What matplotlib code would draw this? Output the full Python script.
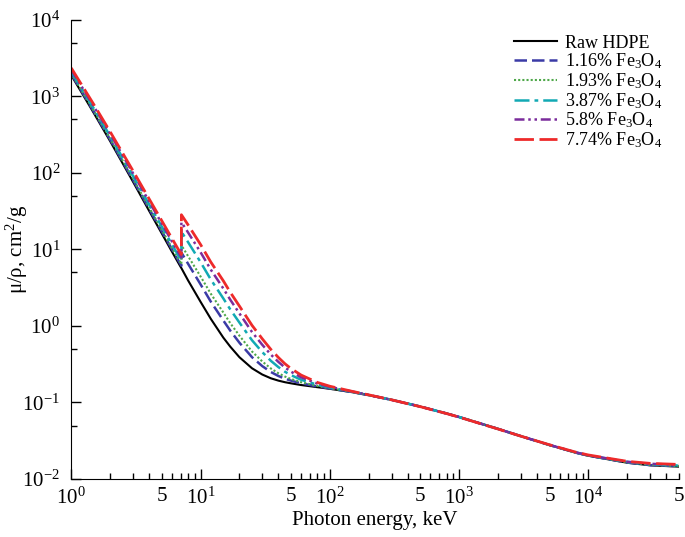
import numpy as np
import matplotlib
matplotlib.use("Agg")
import matplotlib.pyplot as plt
from matplotlib.ticker import LogLocator, NullFormatter

plt.rcParams['font.family'] = ['Liberation Serif', 'DejaVu Serif']
plt.rcParams['mathtext.fontset'] = 'custom'
plt.rcParams['mathtext.rm'] = 'Liberation Serif'
plt.rcParams['mathtext.it'] = 'Liberation Serif:italic'

# photon energy, keV (the Fe K edge at 7.11 keV appears twice)
energy = [1, 1.5, 2, 3, 4, 5, 6, 7, 7.11, 7.11, 8, 10, 12, 15, 17, 20, 25, 30, 35, 40,
          45, 50, 60, 80, 100, 150, 200, 300, 500, 800, 1000, 2000, 3000, 5000, 8000,
          10000, 20000, 30000, 50000]

# mass attenuation coefficient, cm2/g
raw_hdpe = [1894, 599, 259.3, 77.0, 32.0, 16.3, 9.4, 5.95, 5.7, 5.7, 3.95, 2.07, 1.24,
            0.704, 0.535, 0.39, 0.28, 0.232, 0.207, 0.193, 0.184, 0.178, 0.169, 0.1585,
            0.1508, 0.136, 0.1245, 0.1083, 0.0885, 0.0719, 0.0646, 0.0452, 0.0363,
            0.02775, 0.0220, 0.0201, 0.0163, 0.0151, 0.0145]
fe_116 = [1963, 626, 272, 81.5, 34.1, 17.4, 10.1, 6.40, 6.13, 9.11, 6.51, 3.50, 2.08,
          1.18, 0.866, 0.603, 0.391, 0.299, 0.250, 0.222, 0.204, 0.193, 0.178, 0.162,
          0.1527, 0.1365, 0.1247, 0.1083, 0.0885, 0.0718, 0.0646, 0.0452, 0.0363,
          0.0278, 0.0221, 0.0202, 0.0164, 0.0152, 0.0147]
fe_193 = [2009, 643, 281, 84.5, 35.5, 18.2, 10.5, 6.69, 6.42, 11.37, 8.20, 4.44, 2.64,
          1.50, 1.085, 0.745, 0.464, 0.344, 0.278, 0.241, 0.218, 0.203, 0.184, 0.1646,
          0.1539, 0.1368, 0.1248, 0.1083, 0.0884, 0.0718, 0.0645, 0.0452, 0.0363,
          0.0278, 0.0221, 0.0202, 0.0165, 0.0153, 0.0148]
fe_387 = [2124, 688, 302, 92.0, 38.9, 20.1, 11.7, 7.44, 7.14, 17.07, 12.48, 6.83, 4.05,
          2.29, 1.64, 1.105, 0.650, 0.456, 0.350, 0.290, 0.252, 0.228, 0.198, 0.1708,
          0.157, 0.1377, 0.1251, 0.1083, 0.0884, 0.0717, 0.0645, 0.0451, 0.0363,
          0.0278, 0.0222, 0.0203, 0.0167, 0.0155, 0.0150]
fe_58 = [2239, 732, 324, 99.4, 42.4, 22.0, 12.8, 8.19, 7.86, 22.7, 16.7, 9.20, 5.45,
         3.09, 2.195, 1.455, 0.834, 0.568, 0.422, 0.339, 0.286, 0.253, 0.213, 0.177,
         0.160, 0.1386, 0.1254, 0.1083, 0.0883, 0.0716, 0.0644, 0.0451, 0.0363,
         0.0279, 0.0223, 0.0204, 0.0168, 0.0158, 0.0153]
fe_774 = [2354, 776, 345, 106.9, 45.9, 23.9, 14.0, 8.93, 8.59, 28.4, 21.0, 11.6, 6.85,
          3.89, 2.745, 1.815, 1.019, 0.680, 0.493, 0.387, 0.320, 0.278, 0.228, 0.183,
          0.163, 0.1394, 0.1257, 0.1083, 0.0882, 0.0716, 0.0643, 0.0450, 0.0363,
          0.0280, 0.0224, 0.0206, 0.0170, 0.0160, 0.0155]

labels = ["Raw HDPE", "1.16% Fe$_3$O$_4$", "1.93% Fe$_3$O$_4$", "3.87% Fe$_3$O$_4$",
          "5.8% Fe$_3$O$_4$", "7.74% Fe$_3$O$_4$"]
series = [raw_hdpe, fe_116, fe_193, fe_387, fe_58, fe_774]
colors = ["black", "#3b3ba6", "#4fa84a", "#12a9b4", "#7b2c9c", "#ee2a2a"]
dashes = [None, (5, 2), (1, 1), (6, 2, 1.5, 2), (4, 1.5, 1, 1.5, 1, 1.5), (7, 2)]
widths = [1.5, 1.8, 1.5, 1.8, 1.8, 2.0]

# x axis ticks: decades labelled, plus "5" under each 5x10^k minor tick
x_major = [1, 10, 100, 1000, 10000]
x_minor = [m * d for d in x_major for m in range(2, 10) if m * d <= 50000]
x_minor_labels = ["5" if str(int(v))[0] == "5" else "" for v in x_minor]

fig = plt.figure(figsize=(6.85, 5.37), dpi=100)
ax = fig.add_axes([0.104, 0.108, 0.887, 0.855])

for y, lab, c, d, lw in zip(series, labels, colors, dashes, widths):
    line, = ax.plot(energy, y, color=c, lw=lw, label=lab)
    if d is not None:
        line.set_dashes(d)

ax.set_xscale("log")
ax.set_yscale("log")
ax.set_xlim(1, 5e4)
ax.set_ylim(1e-2, 1e4)

ax.spines["top"].set_visible(False)
ax.spines["right"].set_visible(False)

ax.set_xticks(x_major)
ax.set_xticks(x_minor, labels=x_minor_labels, minor=True)
ax.yaxis.set_major_locator(LogLocator(base=10, numticks=10))
ax.yaxis.set_minor_locator(LogLocator(base=10, subs=(5,), numticks=10))
ax.yaxis.set_minor_formatter(NullFormatter())

ax.tick_params(which="both", direction="in", labelsize=15)
ax.tick_params(which="major", length=7, width=1)
ax.tick_params(which="minor", length=4.5, width=1)
ax.tick_params(axis="x", which="both", pad=6)
ax.tick_params(axis="y", which="both", pad=8)

ax.set_xlabel("Photon energy, keV", fontsize=15, labelpad=2)
ax.set_ylabel("μ/ρ, cm$^2$/g", fontsize=15)
ax.yaxis.set_label_coords(-0.068, 0.5)

ax.legend(loc="upper right", bbox_to_anchor=(0.972, 0.968), frameon=False, fontsize=13,
          handlelength=2.4, handletextpad=0.4, labelspacing=0.0, borderaxespad=0,
          borderpad=0)

fig.savefig("out.png", dpi=100)
